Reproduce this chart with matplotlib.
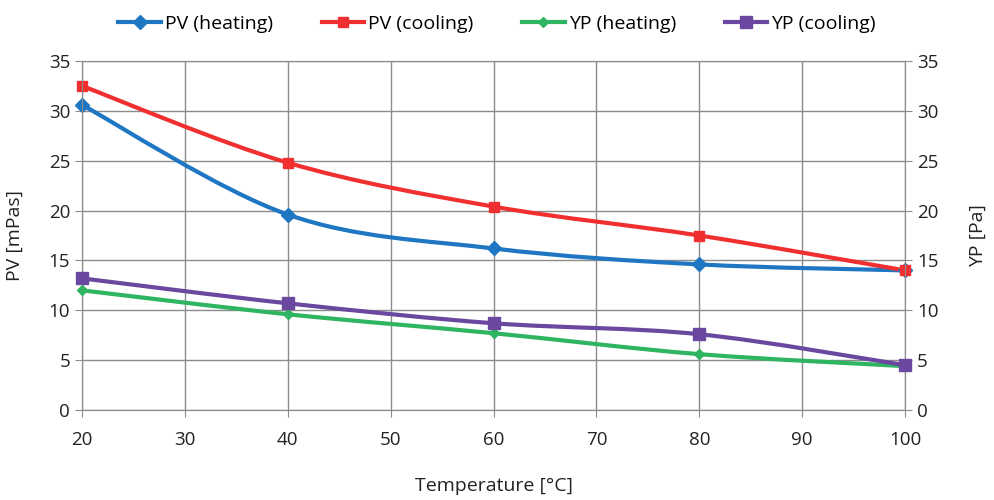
import numpy as np
import matplotlib.pyplot as plt
from matplotlib.path import Path
from matplotlib.patches import PathPatch
from matplotlib.lines import Line2D

plt.rcParams['font.family'] = ['Open Sans', 'DejaVu Sans']

temps = [20, 40, 60, 80, 100]
pv_heating = [30.6, 19.6, 16.2, 14.6, 14.0]
pv_cooling = [32.5, 24.8, 20.4, 17.5, 14.0]
yp_heating = [12.0, 9.6, 7.7, 5.6, 4.4]
yp_cooling = [13.2, 10.7, 8.7, 7.6, 4.5]

grid_col = '#8c8c8c'


def smooth_path(x, y):
    # spreadsheet-style smoothed line: cubic bezier segments, catmull-rom tangents
    x = np.asarray(x, float)
    y = np.asarray(y, float)
    pts = np.column_stack([x, y])
    n = len(pts)
    verts = [pts[0]]
    codes = [Path.MOVETO]
    for i in range(n - 1):
        p0 = pts[i - 1] if i > 0 else pts[i]
        p1 = pts[i]
        p2 = pts[i + 1]
        p3 = pts[i + 2] if i + 2 < n else pts[i + 1]
        c1 = p1 + (p2 - p0) / 6.0
        c2 = p2 - (p3 - p1) / 6.0
        verts += [c1, c2, p2]
        codes += [Path.CURVE4] * 3
    return Path(verts, codes)


fig = plt.figure(figsize=(9.94, 5.0), dpi=100)
ax = fig.add_axes([0.0825, 0.18, 0.828, 0.698])
ax2 = ax.twinx()

series = [
    (ax, pv_heating, '#1f77c4', 'D', 7, 'PV (heating)'),
    (ax, pv_cooling, '#f03030', 's', 7, 'PV (cooling)'),
    (ax2, yp_heating, '#2fb561', 'D', 5, 'YP (heating)'),
    (ax2, yp_cooling, '#6a48a0', 's', 8, 'YP (cooling)'),
]

handles = []
for a, vals, col, mk, ms, lab in series:
    patch = PathPatch(smooth_path(temps, vals), facecolor='none', edgecolor=col,
                      lw=3, zorder=3, capstyle='round', joinstyle='round')
    a.add_patch(patch)
    a.plot(temps, vals, ls='none', marker=mk, ms=ms, color=col, zorder=4,
           clip_on=False)
    handles.append(Line2D([], [], color=col, lw=3, marker=mk, ms=ms, label=lab))

for a in (ax, ax2):
    a.set_xlim(20, 100)
    a.set_ylim(0, 35)
    a.set_yticks(np.arange(0, 36, 5))
    a.tick_params(axis='both', labelsize=13.5, colors='#222222', length=5,
                  color=grid_col, direction='out')
    for sp in a.spines.values():
        sp.set_color(grid_col)

ax.set_xticks(np.arange(20, 101, 10))
ax.tick_params(axis='x', pad=10)
ax.grid(True, color=grid_col, lw=1)
ax.set_axisbelow(True)

ax.set_xlabel('Temperature [°C]', fontsize=14, color='#222222', labelpad=20)
ax.set_ylabel('PV [mPas]', fontsize=14, color='#222222', labelpad=18)
ax2.set_ylabel('YP [Pa]', fontsize=14, color='#222222', labelpad=22)

fig.legend(handles=handles, loc='upper center', bbox_to_anchor=(0.5, 1.005),
           ncol=4, frameon=False, fontsize=14, handlelength=2.2,
           columnspacing=2.5, handletextpad=0.2)

fig.savefig('out.png', dpi=100)
